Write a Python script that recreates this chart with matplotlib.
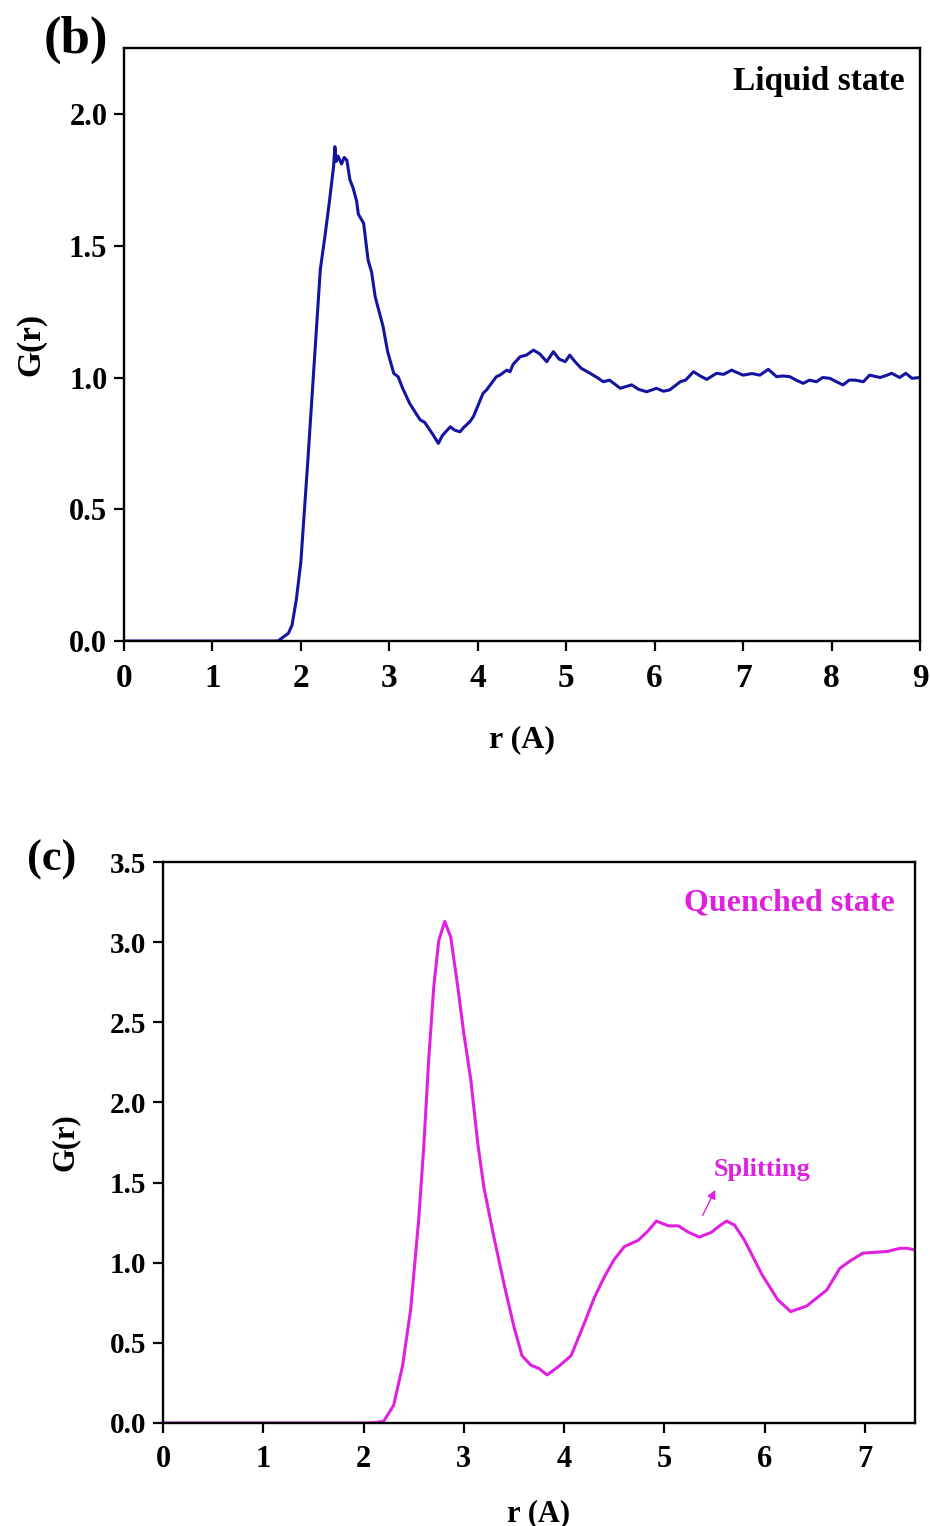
import numpy as np
import matplotlib
matplotlib.use('Agg')
import matplotlib.pyplot as plt

# ---------- data ----------
# (b) liquid state
r_liquid = [0.0, 1.0, 1.74, 1.78, 1.82, 1.86, 1.90, 1.95, 2.00, 2.08,
            2.15, 2.22, 2.27, 2.32, 2.37, 2.385, 2.40, 2.42, 2.46, 2.49,
            2.52, 2.555, 2.59, 2.63, 2.65, 2.71, 2.76, 2.80, 2.84, 2.93,
            2.98, 3.05, 3.10, 3.15, 3.23, 3.29, 3.35, 3.40, 3.46, 3.50,
            3.555, 3.60, 3.69, 3.74, 3.80, 3.84, 3.91, 3.95, 4.06, 4.10,
            4.21, 4.25, 4.33, 4.365, 4.40, 4.48, 4.55, 4.63, 4.70, 4.78,
            4.855, 4.92, 4.99, 5.04, 5.10, 5.17, 5.27, 5.35, 5.42, 5.49,
            5.55, 5.61, 5.74, 5.82, 5.91, 6.02, 6.10, 6.17, 6.29, 6.35,
            6.44, 6.52, 6.59, 6.70, 6.78, 6.87, 7.00, 7.10, 7.19, 7.285,
            7.38, 7.45, 7.53, 7.60, 7.68, 7.75, 7.83, 7.90, 7.98, 8.05,
            8.13, 8.20, 8.27, 8.36, 8.43, 8.55, 8.62, 8.68, 8.77, 8.84,
            8.91, 9.00]
g_liquid = [0.0, 0.0, 0.0, 0.01, 0.02, 0.03, 0.06, 0.16, 0.30, 0.69,
            1.05, 1.41, 1.53, 1.66, 1.80, 1.876, 1.82, 1.84, 1.81, 1.835,
            1.825, 1.75, 1.72, 1.67, 1.62, 1.585, 1.446, 1.40, 1.307, 1.193,
            1.10, 1.016, 1.003, 0.96, 0.902, 0.87, 0.839, 0.83, 0.80, 0.78,
            0.750, 0.78, 0.813, 0.80, 0.794, 0.81, 0.832, 0.851, 0.94, 0.953,
            1.003, 1.009, 1.028, 1.022, 1.05, 1.079, 1.085, 1.104, 1.09, 1.06,
            1.098, 1.07, 1.06, 1.085, 1.06, 1.035, 1.016, 1.00, 0.984, 0.99,
            0.975, 0.959, 0.972, 0.955, 0.946, 0.959, 0.948, 0.953, 0.984, 0.99,
            1.022, 1.005, 0.993, 1.016, 1.012, 1.028, 1.009, 1.015, 1.009, 1.031,
            1.003, 1.006, 1.003, 0.99, 0.978, 0.99, 0.984, 1.00, 0.997, 0.985,
            0.972, 0.99, 0.99, 0.984, 1.009, 1.00, 1.008, 1.016, 1.00, 1.016,
            0.997, 1.00]

# (c) quenched state
r_quench = [0.0, 1.0, 2.0, 2.10, 2.20, 2.30, 2.39, 2.47, 2.55, 2.60,
            2.65, 2.70, 2.75, 2.81, 2.87, 2.94, 3.00, 3.07, 3.14, 3.20,
            3.30, 3.40, 3.50, 3.58, 3.67, 3.75, 3.83, 3.94, 4.07, 4.20,
            4.30, 4.40, 4.50, 4.60, 4.74, 4.84, 4.92, 5.04, 5.14, 5.24,
            5.35, 5.47, 5.55, 5.62, 5.70, 5.80, 5.97, 6.13, 6.26, 6.42,
            6.62, 6.75, 6.85, 6.98, 7.22, 7.35, 7.42, 7.50]
g_quench = [0.0, 0.0, 0.0, 0.002, 0.01, 0.11, 0.36, 0.71, 1.27, 1.72,
            2.27, 2.72, 3.01, 3.13, 3.03, 2.72, 2.43, 2.14, 1.74, 1.47,
            1.16, 0.87, 0.60, 0.42, 0.36, 0.34, 0.30, 0.35, 0.42, 0.62,
            0.78, 0.91, 1.02, 1.10, 1.14, 1.20, 1.26, 1.23, 1.23, 1.19,
            1.16, 1.19, 1.23, 1.26, 1.235, 1.14, 0.93, 0.77, 0.695, 0.73,
            0.83, 0.965, 1.01, 1.06, 1.07, 1.09, 1.09, 1.08]

liquid_yticks = [0.0, 0.5, 1.0, 1.5, 2.0]
quench_yticks = [0.0, 0.5, 1.0, 1.5, 2.0, 2.5, 3.0, 3.5]

BLUE = '#1414a0'
MAGENTA = '#e020e0'

plt.rcParams['font.family'] = ['Liberation Serif', 'DejaVu Serif']
plt.rcParams['font.weight'] = 'bold'
plt.rcParams['axes.labelweight'] = 'bold'

fig = plt.figure(figsize=(9.3, 15.26), dpi=100)
ax1 = fig.add_axes([0.1333, 0.5799, 0.8559, 0.3886])
ax2 = fig.add_axes([0.1753, 0.0675, 0.8086, 0.3676])


def style(ax, xfs, yfs, xpad):
    for s in ax.spines.values():
        s.set_linewidth(1.7)
    ax.tick_params(direction='out', length=7, width=1.6, top=False, right=False)
    ax.tick_params(axis='x', labelsize=xfs, pad=xpad)
    ax.tick_params(axis='y', labelsize=yfs, pad=5)
    for lab in ax.get_xticklabels() + ax.get_yticklabels():
        lab.set_fontweight('bold')


# ---------- (b) ----------
ax1.plot(r_liquid, g_liquid, color=BLUE, lw=2.2)
ax1.set_xlim(0, 9)
ax1.set_ylim(0, 2.25)
ax1.set_xticks(range(0, 10))
ax1.set_yticks(liquid_yticks)
ax1.set_yticklabels([f'{v:.1f}' for v in liquid_yticks])
style(ax1, 24, 22, 9)
ax1.set_xlabel('r (A)', fontsize=23, labelpad=22)
ax1.set_ylabel('G(r)', fontsize=24, labelpad=16)
ax1.text(0.981, 0.943, 'Liquid state', transform=ax1.transAxes,
         ha='right', va='center', fontsize=24, fontweight='bold')
fig.text(0.082, 0.974, '(b)', ha='center', va='center', fontsize=38,
         fontweight='bold')

# ---------- (c) ----------
ax2.plot(r_quench, g_quench, color=MAGENTA, lw=2.2)
ax2.set_xlim(0, 7.5)
ax2.set_ylim(0, 3.5)
ax2.set_xticks(range(0, 8))
ax2.set_yticks(quench_yticks)
ax2.set_yticklabels([f'{v:.1f}' for v in quench_yticks])
style(ax2, 22, 21, 9)
ax2.set_xlabel('r (A)', fontsize=22, labelpad=18)
ax2.set_ylabel('G(r)', fontsize=22, labelpad=22)
ax2.text(0.973, 0.927, 'Quenched state', transform=ax2.transAxes,
         ha='right', va='center', fontsize=23, fontweight='bold', color=MAGENTA)
ax2.annotate('', xy=(5.52, 1.47), xytext=(5.37, 1.28),
             arrowprops=dict(arrowstyle='-|>', color=MAGENTA, lw=1.0,
                             mutation_scale=13))
ax2.text(5.97, 1.58, 'Splitting', ha='center', va='center', fontsize=19,
         fontweight='bold', color=MAGENTA)
fig.text(0.056, 0.4364, '(c)', ha='center', va='center', fontsize=32,
         fontweight='bold')

fig.savefig('out.png', dpi=100, facecolor='white')
